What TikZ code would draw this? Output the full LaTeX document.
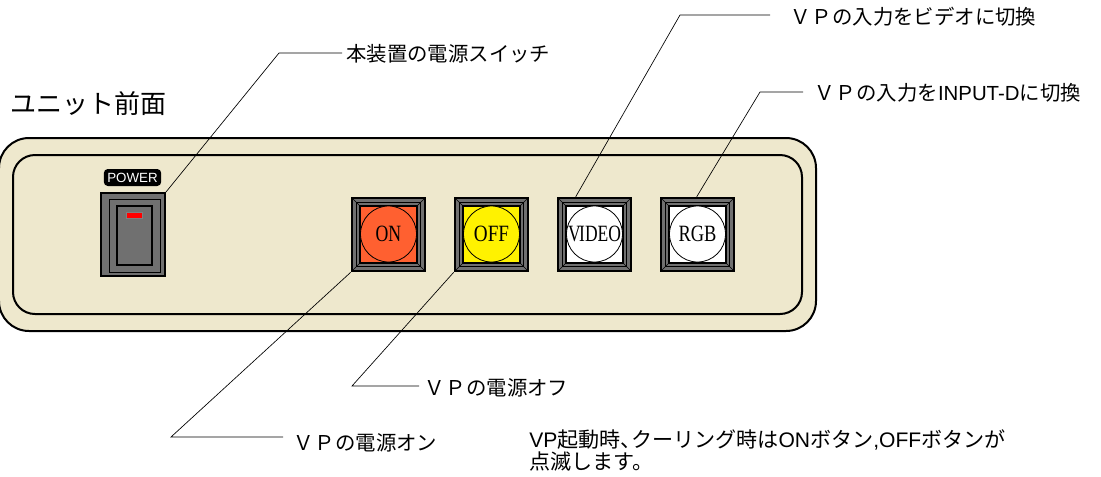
\documentclass[tikz,border=0pt]{standalone}
\usepackage{fontspec}
\setmainfont{Noto Sans CJK JP}
\newfontfamily\lat{Liberation Sans}
\newfontfamily\ser{Liberation Serif}
\definecolor{panel}{HTML}{EEE8CD}
\definecolor{keygray}{HTML}{707070}
\definecolor{onred}{HTML}{FF6030}
\definecolor{offyel}{HTML}{FFF200}
\newcommand{\vp}{Ｖ\kern1ptＰ}
\tikzset{
  x=0.75pt,y=-0.75pt,
  leader/.style={draw=black,line width=0.5pt},
  lbl/.style={inner sep=0pt,anchor=west,font=\fontsize{15.3}{18}\selectfont},
  btncap/.style={font=\ser\fontsize{17.5}{17.5}\selectfont,inner sep=0pt},
  edge line/.style={draw=black,line width=1.9pt,line join=miter},
}
\newcommand{\keybtn}[5]{% name, x, y, colour, text
  \node[minimum width=54.75pt,minimum height=54.75pt,inner sep=0pt,fill=keygray,draw=black,line width=1.9pt] (#1) at (#2+36.5,#3+36.5) {};
  \draw[black,line width=0.9pt] (#2+4.5,#3+4.5) rectangle (#2+68.5,#3+68.5);
  \draw[black,line width=0.5pt] (#2,#3) -- (#2+8,#3+8) (#2+73,#3) -- (#2+65,#3+8) (#2,#3+73) -- (#2+8,#3+65) (#2+73,#3+73) -- (#2+65,#3+65);
  \draw[edge line,fill=#4] (#2+8,#3+8) rectangle (#2+65,#3+65);
  \draw[black,line width=0.6pt,fill=#4] (#2+36.5,#3+36) circle[radius=28];
  \node[btncap] (#1t) at (#2+36.5,#3+36) {#5};
}
\begin{document}
\begin{tikzpicture}
\useasboundingbox (0,0) rectangle (1101,476);
\fill[white] (0,0) rectangle (1101,476);
% panel
\draw[black,line width=1.5pt,fill=panel,rounded corners=22.5pt] (-1,138) rectangle (816,331);
\draw[black,line width=1.5pt,rounded corners=16.5pt] (13,155) rectangle (802,314);
% title
\node[inner sep=0pt,anchor=west,font=\fontsize{19.5}{21}\selectfont] (title) at (10,104) {ユニット前面};
% power
\node[fill=black,rounded corners=3pt,inner sep=0pt,minimum width=43pt,minimum height=12.75pt,text=white,font=\lat\fontsize{10}{10}\selectfont] (powerlbl) at (132.5,177.5) {POWER};
\node[fill=keygray,draw=black,line width=1.4pt,inner sep=0pt,minimum width=48pt,minimum height=62.25pt] (power) at (133,234.5) {};
\draw[black,line width=0.6pt] (109,199) rectangle (160,272);
\draw[black,line width=1.2pt] (117,206) rectangle (152,265);
\draw[gray,line width=0.5pt,fill=red] (126,212) rectangle (142,218);
% buttons
\keybtn{on}{352}{198}{onred}{\scalebox{0.76}[1]{ON}}
\keybtn{off}{455}{198}{offyel}{\scalebox{0.82}[1]{OFF}}
\keybtn{video}{558}{198}{white}{\scalebox{0.75}[1]{V\kern-1.5ptIDEO}}
\keybtn{rgb}{661}{198}{white}{\scalebox{0.79}[1]{RGB}}
% labels
\node[lbl] (l1) at (346,53.5) {本装置の電源スイッチ};
\node[lbl] (l2) at (790,17) {\vp の入力をビデオに切換};
\node[lbl] (l3) at (814,93) {\vp の入力を{\lat INPUT-D}に切換};
\node[lbl] (l4) at (424,388) {\vp の電源オフ};
\node[lbl] (l5) at (293,443) {\vp の電源オン};
\node[inner sep=0pt,anchor=north west,align=left,font=\fontsize{15.8}{17}\selectfont] (note) at (529,429) {{\lat VP}起動時\makebox[0.5em][l]{、}クーリング時は{\lat ON}ボタン{\lat ,OFF}ボタンが\\点滅します。};
% leaders
\coordinate (k1) at (279,53); \coordinate (k2) at (680,15); \coordinate (k3) at (760,92);
\coordinate (k4) at (352,386); \coordinate (k5) at (171,437);
\coordinate (e1) at (342,53); \coordinate (e2) at (770,15); \coordinate (e3) at (803,92);
\coordinate (e4) at (419,386); \coordinate (e5) at (283,437);
\draw[leader] (power.north east) -- (k1) -- (e1);
\draw[leader] (video.north west) ++(19,0) -- (k2) -- (e2);
\draw[leader] (rgb.north west) ++(37,0) -- (k3) -- (e3);
\draw[leader] (off.south west) -- (k4) -- (e4);
\draw[leader] (on.south west) -- (k5) -- (e5);
\end{tikzpicture}
\end{document}
